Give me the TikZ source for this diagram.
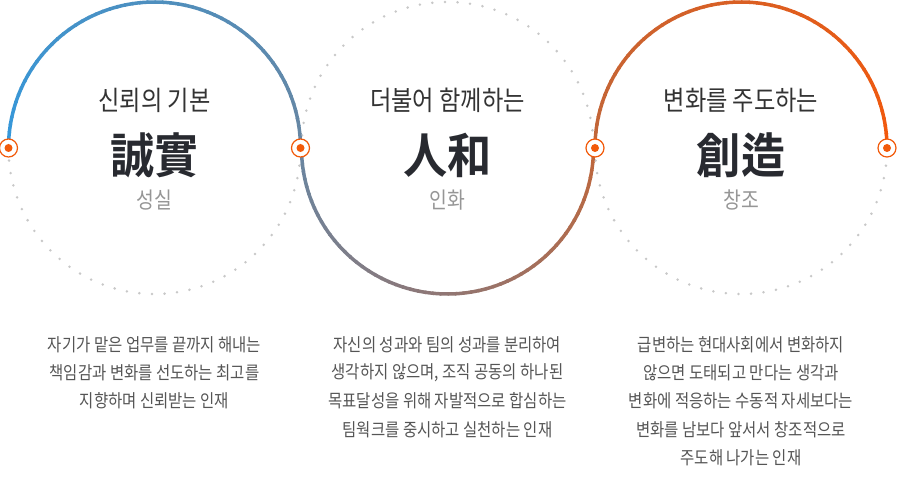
\documentclass[tikz,border=0pt]{standalone}
\usepackage{fontspec}
\setmainfont{Noto Sans CJK KR}
\newfontfamily\kr[FakeStretch=0.86,BoldFont={Noto Sans CJK KR Bold},BoldFeatures={FakeStretch=0.92}]{Noto Sans CJK KR}
\usetikzlibrary{calc}
\definecolor{cBlue}{RGB}{52,152,219}
\definecolor{cSlate}{RGB}{104,134,162}
\definecolor{cMauve}{RGB}{145,118,115}
\definecolor{cBrown}{RGB}{192,102,58}
\definecolor{cOrange}{RGB}{243,88,12}
\definecolor{cMark}{RGB}{242,90,10}
\definecolor{cDot}{RGB}{200,200,200}
\definecolor{cTitle}{RGB}{51,51,51}
\definecolor{cBig}{RGB}{40,42,48}
\definecolor{cSub}{RGB}{150,150,150}
\definecolor{cBody}{RGB}{85,85,85}
\tikzset{
  arcline/.style={line width=3.5pt},
  dotarc/.style={draw=cDot, line width=2.8pt, line cap=round, dash pattern=on 0pt off 12.6pt},
  ring/.style={circle, minimum size=18pt, inner sep=0pt, draw=cMark, line width=1.2pt, fill=white},
  core/.style={circle, minimum size=8pt, inner sep=0pt, fill=cMark},
  ttl/.style={font=\kr\fontsize{27}{32}\selectfont, text=cTitle, inner sep=0pt},
  big/.style={font=\kr\bfseries\fontsize{48}{56}\selectfont, text=cBig, inner sep=0pt},
  sub/.style={font=\kr\fontsize{22.5}{27}\selectfont, text=cSub, inner sep=0pt},
  body/.style={font=\kr\fontsize{18}{22}\selectfont, text=cBody, inner sep=0pt},
}
\begin{document}
\begin{tikzpicture}[x=1pt,y=1pt]
\useasboundingbox (0,0) rectangle (897,482);
\coordinate (c1) at (154.5,334);
\coordinate (c2) at (447.5,334);
\coordinate (c3) at (741,334);
\def\R{146}
% dotted halves
\draw[dotarc] (c1) ++(180:\R) arc[start angle=180, end angle=360, radius=\R];
\draw[dotarc] (c2) ++(180:\R) arc[start angle=180, end angle=0, radius=\R];
\draw[dotarc] (c3) ++(180:\R) arc[start angle=180, end angle=360, radius=\R];
% gradient arcs
\foreach \i in {0,...,59}{
  \pgfmathsetmacro\sa{180-3*\i}
  \pgfmathsetmacro\ea{180-3*\i-3.6}
  \pgfmathsetmacro\p{100-(\i+0.5)*100/60}
  \draw[arcline, draw=cBlue!\p!cSlate] (c1) ++(\sa:\R) arc[start angle=\sa, end angle=\ea, radius=\R];
}
\foreach \i in {0,...,29}{
  \pgfmathsetmacro\sa{180+3*\i}
  \pgfmathsetmacro\ea{180+3*\i+3.6}
  \pgfmathsetmacro\p{100-(\i+0.5)*100/30}
  \draw[arcline, draw=cSlate!\p!cMauve] (c2) ++(\sa:\R) arc[start angle=\sa, end angle=\ea, radius=\R];
}
\foreach \i in {0,...,29}{
  \pgfmathsetmacro\sa{270+3*\i}
  \pgfmathsetmacro\ea{270+3*\i+3.6}
  \pgfmathsetmacro\p{100-(\i+0.5)*100/30}
  \draw[arcline, draw=cMauve!\p!cBrown] (c2) ++(\sa:\R) arc[start angle=\sa, end angle=\ea, radius=\R];
}
\foreach \i in {0,...,59}{
  \pgfmathsetmacro\sa{180-3*\i}
  \pgfmathsetmacro\ea{180-3*\i-3.6}
  \pgfmathsetmacro\p{100-(\i+0.5)*100/60}
  \draw[arcline, draw=cBrown!\p!cOrange] (c3) ++(\sa:\R) arc[start angle=\sa, end angle=\ea, radius=\R];
}
% markers
\node[ring] (m1) at ($(c1)+(180:\R)$) {};
\node[ring] (m2) at ($(c1)+(0:\R)$) {};
\node[ring] (m3) at ($(c3)+(180:\R)$) {};
\node[ring] (m4) at ($(c3)+(0:\R)$) {};
\node[core] (d1) at (m1) {};
\node[core] (d2) at (m2) {};
\node[core] (d3) at (m3) {};
\node[core] (d4) at (m4) {};
% circle texts
\node[ttl] (t1) at (154.5,382) {신뢰의 기본};
\node[big] (h1) at (154.5,327) {誠實};
\node[sub] (s1) at (154.5,282) {성실};
\node[ttl] (t2) at (447.5,382) {더불어 함께하는};
\node[big] (h2) at (447.5,327) {人和};
\node[sub] (s2) at (447.5,282) {인화};
\node[ttl] (t3) at (741,382) {변화를 주도하는};
\node[big] (h3) at (741,327) {創造};
\node[sub] (s3) at (741,282) {창조};
% body texts
\foreach \txt [count=\k from 0] in {자기가 맡은 업무를 끝까지 해내는, 책임감과 변화를 선도하는 최고를, 지향하며 신뢰받는 인재}
  \node[body] (ba\k) at (154.5,137.5-28.3*\k) {\txt};
\foreach \txt [count=\k from 0] in {자신의 성과와 팀의 성과를 분리하여, {생각하지 않으며, 조직 공동의 하나된}, 목표달성을 위해 자발적으로 합심하는, 팀웍크를 중시하고 실천하는 인재}
  \node[body] (bb\k) at (447.5,137.5-28.3*\k) {\txt};
\foreach \txt [count=\k from 0] in {급변하는 현대사회에서 변화하지, 않으면 도태되고 만다는 생각과, 변화에 적응하는 수동적 자세보다는, 변화를 남보다 앞서서 창조적으로, 주도해 나가는 인재}
  \node[body] (bc\k) at (741,137.5-28.3*\k) {\txt};
\end{tikzpicture}
\end{document}
